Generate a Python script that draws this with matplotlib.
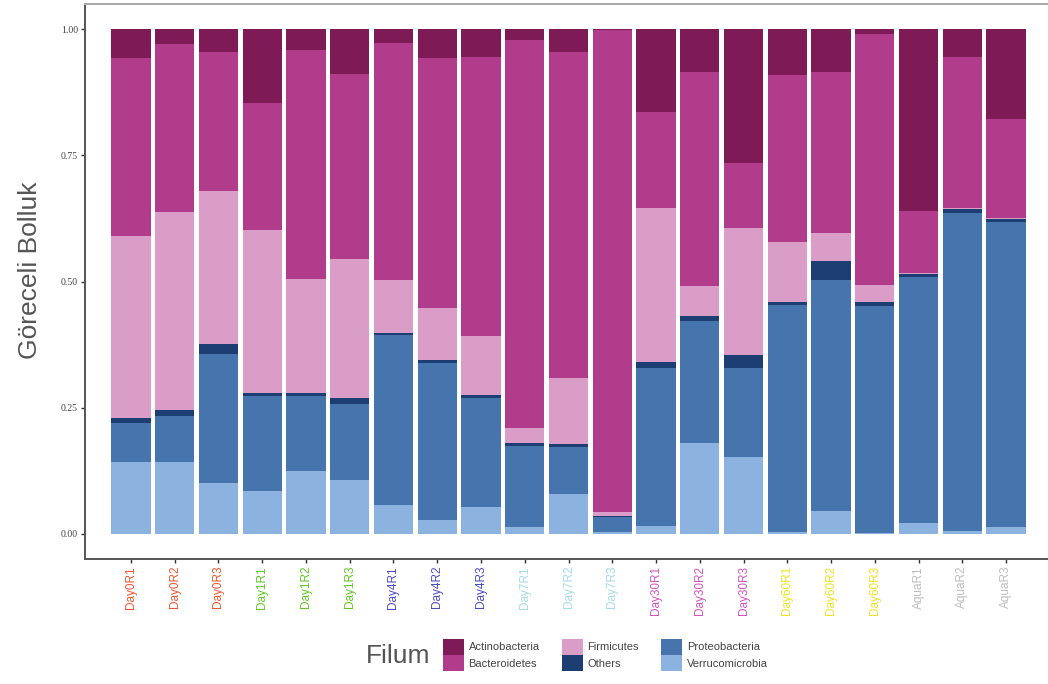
import matplotlib
matplotlib.use("Agg")
import matplotlib.pyplot as plt
from matplotlib.patches import Patch
import numpy as np

samples = ["Day0R1", "Day0R2", "Day0R3", "Day1R1", "Day1R2", "Day1R3",
           "Day4R1", "Day4R2", "Day4R3", "Day7R1", "Day7R2", "Day7R3",
           "Day30R1", "Day30R2", "Day30R3", "Day60R1", "Day60R2", "Day60R3",
           "AquaR1", "AquaR2", "AquaR3"]

# relative abundance per phylum, stacked bottom to top
verrucomicrobia = [0.143, 0.143, 0.100, 0.084, 0.124, 0.107, 0.057, 0.028, 0.053, 0.013, 0.079,
                   0.004, 0.016, 0.179, 0.152, 0.004, 0.046, 0.002, 0.021, 0.006, 0.013]
proteobacteria = [0.077, 0.090, 0.257, 0.190, 0.150, 0.151, 0.336, 0.311, 0.216, 0.160, 0.093,
                  0.029, 0.313, 0.242, 0.177, 0.449, 0.456, 0.449, 0.488, 0.629, 0.605]
others = [0.009, 0.012, 0.020, 0.006, 0.006, 0.011, 0.005, 0.006, 0.007, 0.006, 0.005,
          0.003, 0.012, 0.010, 0.026, 0.006, 0.038, 0.008, 0.005, 0.008, 0.006]
firmicutes = [0.362, 0.393, 0.302, 0.323, 0.225, 0.276, 0.104, 0.103, 0.115, 0.031, 0.132,
              0.008, 0.304, 0.060, 0.252, 0.120, 0.057, 0.034, 0.002, 0.002, 0.002]
bacteroidetes = [0.351, 0.332, 0.276, 0.251, 0.453, 0.366, 0.471, 0.494, 0.554, 0.769, 0.645,
                 0.954, 0.191, 0.425, 0.128, 0.330, 0.319, 0.497, 0.124, 0.300, 0.197]
actinobacteria = [0.058, 0.030, 0.045, 0.146, 0.042, 0.089, 0.027, 0.058, 0.055, 0.021, 0.046,
                  0.002, 0.164, 0.084, 0.265, 0.091, 0.084, 0.010, 0.360, 0.055, 0.177]

stack_names = ["Verrucomicrobia", "Proteobacteria", "Others", "Firmicutes",
               "Bacteroidetes", "Actinobacteria"]
stack_values = [verrucomicrobia, proteobacteria, others, firmicutes,
                bacteroidetes, actinobacteria]
phylum_colors = {
    "Actinobacteria": "#7E1A55",
    "Bacteroidetes": "#B13C8B",
    "Firmicutes": "#D99DC7",
    "Others": "#1D3E73",
    "Proteobacteria": "#4675AD",
    "Verrucomicrobia": "#8CB2DF",
}
legend_order = ["Actinobacteria", "Bacteroidetes", "Firmicutes", "Others",
                "Proteobacteria", "Verrucomicrobia"]

group_colors = {"Day0": "#EE5530", "Day1": "#5EC622", "Day4": "#4A4AC2",
                "Day7": "#A4DBE8", "Day30": "#D452BE", "Day60": "#F0E21E",
                "Aqua": "#BDBDBD"}

fig = plt.figure(figsize=(10.48, 6.84), dpi=100)
ax = fig.add_axes([85 / 1048, 1 - 559 / 684, (1052 - 85) / 1048, (559 - 4) / 684])

x = np.arange(1, len(samples) + 1)
bottom = np.zeros(len(samples))
for name, vals in zip(stack_names, stack_values):
    vals = np.asarray(vals)
    ax.bar(x, vals, width=0.9, bottom=bottom, color=phylum_colors[name], linewidth=0)
    bottom += vals

ax.set_xlim(-0.05, 22.05)
ax.set_ylim(-0.05, 1.05)
ax.set_yticks([0, 0.25, 0.5, 0.75, 1.0])
ax.set_yticklabels(["0.00", "0.25", "0.50", "0.75", "1.00"],
                   family="Liberation Serif", fontsize=7, color="#444444")
ax.set_xticks(x)
ax.set_xticklabels(samples, rotation=90, fontsize=8.5, family="Liberation Sans")
for lbl, s in zip(ax.get_xticklabels(), samples):
    lbl.set_color(group_colors[s[:-2]])

ax.tick_params(axis="both", direction="out", length=3, width=1, color="#333333", pad=2)
for side in ["left", "bottom"]:
    ax.spines[side].set_color("#555555")
    ax.spines[side].set_linewidth(1.4)
ax.spines["top"].set_color("#AAAAAA")
ax.spines["top"].set_linewidth(1.4)
ax.spines["right"].set_visible(False)

fig.text(30 / 1048, 1 - 270 / 684, "Göreceli Bolluk", rotation=90, ha="center",
         va="center", fontsize=19, color="#555555", family="Liberation Sans")

fig.text(398 / 1048, 1 - 656 / 684, "Filum", ha="center", va="center",
         fontsize=19, color="#555555", family="Liberation Sans")
handles = [Patch(facecolor=phylum_colors[n], edgecolor="none") for n in legend_order]
fig.legend(handles, legend_order, ncol=3, loc="center left",
           bbox_to_anchor=(443 / 1048, 1 - 655 / 684), frameon=False,
           prop={"family": "Liberation Sans", "size": 8}, labelcolor="#444444",
           handlelength=1.9, handleheight=1.9, labelspacing=0.0,
           handletextpad=0.4, columnspacing=2.0, borderpad=0, borderaxespad=0)

fig.savefig("out.png", dpi=100)
